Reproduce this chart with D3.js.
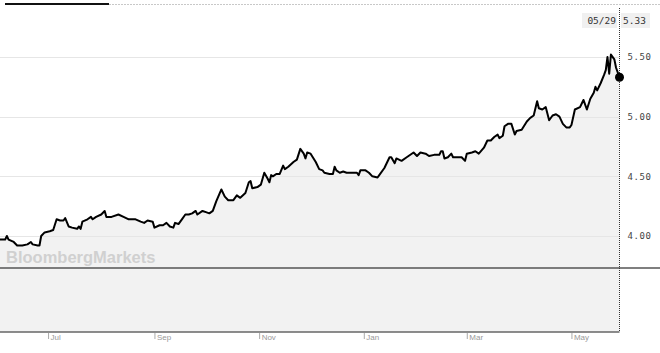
<!DOCTYPE html>
<html>
<head>
<meta charset="utf-8">
<script src="https://cdn.jsdelivr.net/npm/d3@7"></script>
<style>
  html, body { margin: 0; padding: 0; background: #fff; }
  svg { display: block; }
</style>
</head>
<body>
<svg id="chart"></svg>
<script>
// price series
var dates = [
  "2023-06-03","2023-06-06","2023-06-07","2023-06-08","2023-06-11","2023-06-13","2023-06-16","2023-06-19",
  "2023-06-21","2023-06-22","2023-06-25","2023-06-26","2023-06-27","2023-06-29","2023-07-02","2023-07-04",
  "2023-07-06","2023-07-08","2023-07-10","2023-07-11","2023-07-13","2023-07-15","2023-07-18","2023-07-19",
  "2023-07-20","2023-07-21","2023-07-24","2023-07-26","2023-07-27","2023-07-29","2023-08-01","2023-08-03",
  "2023-08-04","2023-08-07","2023-08-11","2023-08-14","2023-08-17","2023-08-21","2023-08-24","2023-08-26",
  "2023-08-28","2023-08-31","2023-09-01","2023-09-04","2023-09-06","2023-09-08","2023-09-10","2023-09-12",
  "2023-09-13","2023-09-15","2023-09-17","2023-09-19","2023-09-21","2023-09-23","2023-09-25","2023-09-26",
  "2023-09-29","2023-10-01","2023-10-03","2023-10-05","2023-10-07","2023-10-10","2023-10-12","2023-10-14",
  "2023-10-17","2023-10-19","2023-10-21","2023-10-24","2023-10-26","2023-10-27","2023-10-28","2023-10-31",
  "2023-11-02","2023-11-04","2023-11-06","2023-11-07","2023-11-08","2023-11-09","2023-11-11","2023-11-13",
  "2023-11-15","2023-11-16","2023-11-18","2023-11-21","2023-11-23","2023-11-25","2023-11-27","2023-11-28",
  "2023-11-29","2023-12-01","2023-12-04","2023-12-06","2023-12-08","2023-12-09","2023-12-12","2023-12-14",
  "2023-12-15","2023-12-16","2023-12-18","2023-12-20","2023-12-22","2023-12-25","2023-12-28","2023-12-29",
  "2023-12-30","2024-01-02","2024-01-04","2024-01-06","2024-01-09","2024-01-10","2024-01-13","2024-01-16",
  "2024-01-17","2024-01-19","2024-01-20","2024-01-23","2024-01-26","2024-01-30","2024-02-01","2024-02-03",
  "2024-02-06","2024-02-08","2024-02-11","2024-02-14","2024-02-15","2024-02-16","2024-02-17","2024-02-19",
  "2024-02-21","2024-02-22","2024-02-24","2024-02-27","2024-02-29","2024-03-01","2024-03-04","2024-03-06",
  "2024-03-08","2024-03-11","2024-03-13","2024-03-15","2024-03-17","2024-03-19","2024-03-20","2024-03-22",
  "2024-03-23","2024-03-25","2024-03-27","2024-03-29","2024-03-30","2024-04-02","2024-04-05","2024-04-07",
  "2024-04-09","2024-04-11","2024-04-12","2024-04-14","2024-04-16","2024-04-18","2024-04-20","2024-04-22",
  "2024-04-24","2024-04-26","2024-04-28","2024-04-30","2024-05-01","2024-05-03","2024-05-06","2024-05-08",
  "2024-05-10","2024-05-12","2024-05-14","2024-05-15","2024-05-16","2024-05-18","2024-05-20","2024-05-21",
  "2024-05-22","2024-05-23","2024-05-24","2024-05-26","2024-05-27","2024-05-29"
];
var values = [
  3.97,3.97,4.00,3.97,3.95,3.92,3.92,3.93,
  3.95,3.93,3.92,3.92,4.00,4.03,4.04,4.05,
  4.14,4.13,4.13,4.15,4.08,4.07,4.06,4.08,
  4.06,4.12,4.14,4.16,4.14,4.16,4.18,4.21,
  4.16,4.16,4.18,4.16,4.14,4.14,4.12,4.11,
  4.13,4.12,4.07,4.09,4.09,4.11,4.08,4.07,
  4.11,4.10,4.14,4.18,4.18,4.19,4.21,4.18,
  4.21,4.20,4.19,4.21,4.29,4.39,4.33,4.30,
  4.30,4.34,4.32,4.36,4.45,4.46,4.40,4.41,
  4.43,4.53,4.48,4.45,4.51,4.50,4.52,4.52,
  4.59,4.56,4.58,4.62,4.64,4.73,4.69,4.65,
  4.70,4.69,4.62,4.56,4.55,4.53,4.52,4.52,
  4.58,4.55,4.53,4.54,4.53,4.53,4.53,4.51,
  4.55,4.55,4.53,4.50,4.49,4.51,4.57,4.66,
  4.66,4.61,4.65,4.63,4.66,4.70,4.67,4.70,
  4.69,4.67,4.68,4.68,4.71,4.71,4.65,4.66,
  4.69,4.66,4.66,4.66,4.63,4.69,4.70,4.71,
  4.69,4.74,4.80,4.80,4.83,4.85,4.82,4.84,
  4.92,4.94,4.94,4.85,4.88,4.89,4.96,4.99,
  5.01,5.13,5.07,5.06,5.08,4.97,5.01,5.02,
  5.00,4.94,4.91,4.91,4.93,5.06,5.08,5.14,
  5.06,5.15,5.20,5.25,5.22,5.28,5.35,5.39,
  5.50,5.36,5.52,5.48,5.41,5.33
];

var yTicks = [4.00, 4.50, 5.00, 5.50];
var monthTicks = ["2023-07-01","2023-09-01","2023-11-01","2024-01-01","2024-03-01","2024-05-01"];
var lastLabel = "05/29";
var watermark = "BloombergMarkets";

var W = 660, H = 353;
var plotRight = 619.5, priceBottom = 268, volBottom = 332;

var parse = d3.timeParse("%Y-%m-%d");
var data = dates.map(function (d, i) { return { date: parse(d), value: values[i] }; });

var x = d3.scaleTime()
    .domain([parse("2023-06-03"), parse("2024-05-29")])
    .range([0, plotRight]);

var y = d3.scaleLinear()
    .domain([4.0, 5.5])
    .range([236, 57]);

var svg = d3.select("#chart")
    .attr("width", W)
    .attr("height", H);

// volume panel background
svg.append("rect")
    .attr("x", 0).attr("y", priceBottom)
    .attr("width", plotRight).attr("height", volBottom - priceBottom)
    .attr("fill", "#f2f2f2");

// area under the price line
var area = d3.area()
    .x(function (d) { return x(d.date); })
    .y0(priceBottom)
    .y1(function (d) { return y(d.value); });

svg.append("path")
    .datum(data)
    .attr("d", area)
    .attr("fill", "#f2f2f2");

// gridlines
svg.append("g")
    .selectAll("line")
    .data(yTicks)
    .enter().append("line")
    .attr("x1", 0).attr("x2", plotRight)
    .attr("y1", function (d) { return Math.round(y(d)) + 0.5; })
    .attr("y2", function (d) { return Math.round(y(d)) + 0.5; })
    .attr("stroke", "#e6e6e6")
    .attr("stroke-width", 1);

// watermark
svg.append("text")
    .attr("x", 6).attr("y", 263)
    .attr("font-family", "Liberation Sans, Arial, sans-serif")
    .attr("font-weight", "bold")
    .attr("font-size", "16.5px")
    .attr("fill", "#d0d0d0")
    .text(watermark);

// price line
var line = d3.line()
    .x(function (d) { return x(d.date); })
    .y(function (d) { return y(d.value); });

svg.append("path")
    .datum(data)
    .attr("d", line)
    .attr("fill", "none")
    .attr("stroke", "#000")
    .attr("stroke-width", 2)
    .attr("stroke-linejoin", "round");

// panel separators
svg.append("line")
    .attr("x1", 0).attr("x2", W)
    .attr("y1", priceBottom).attr("y2", priceBottom)
    .attr("stroke", "#555").attr("stroke-width", 1.5);

svg.append("line")
    .attr("x1", 0).attr("x2", plotRight)
    .attr("y1", volBottom).attr("y2", volBottom)
    .attr("stroke", "#666").attr("stroke-width", 1.5);

// cursor line at last point
svg.append("line")
    .attr("x1", plotRight).attr("x2", plotRight)
    .attr("y1", 8).attr("y2", volBottom)
    .attr("stroke", "#333").attr("stroke-width", 1)
    .attr("stroke-dasharray", "1,1");

// end dot
var last = data[data.length - 1];
svg.append("circle")
    .attr("cx", x(last.date)).attr("cy", y(last.value))
    .attr("r", 4.5)
    .attr("fill", "#000");

// top range selector bar
svg.append("line")
    .attr("x1", 109).attr("x2", W)
    .attr("y1", 4.5).attr("y2", 4.5)
    .attr("stroke", "#c8c8c8").attr("stroke-width", 1)
    .attr("stroke-dasharray", "2,1");
svg.append("line")
    .attr("x1", 5).attr("x2", 109)
    .attr("y1", 4).attr("y2", 4)
    .attr("stroke", "#111").attr("stroke-width", 2);

// y axis on the right
var yAxis = d3.axisRight(y)
    .tickValues(yTicks)
    .tickFormat(d3.format(".2f"))
    .tickSize(0)
    .tickPadding(8);

var yg = svg.append("g")
    .attr("transform", "translate(" + plotRight + ",0)")
    .call(yAxis);
yg.select(".domain").remove();
yg.selectAll("text")
    .attr("font-family", "DejaVu Sans Mono, monospace")
    .attr("font-size", "9px")
    .attr("fill", "#444")
    .attr("letter-spacing", "0.6px");

// last value labels
var mono = "DejaVu Sans Mono, monospace";
svg.append("rect")
    .attr("x", 582).attr("y", 13).attr("width", 35).attr("height", 15)
    .attr("fill", "#f0f0f0");
svg.append("rect")
    .attr("x", 621).attr("y", 13).attr("width", 29).attr("height", 15)
    .attr("fill", "#f0f0f0");
svg.append("text")
    .attr("x", 616).attr("y", 24)
    .attr("text-anchor", "end")
    .attr("font-family", mono).attr("font-size", "9.5px").attr("fill", "#333")
    .text(lastLabel);
svg.append("text")
    .attr("x", 623).attr("y", 24)
    .attr("font-family", mono).attr("font-size", "9.5px").attr("fill", "#333")
    .text(d3.format(".2f")(last.value));

// month axis
var xAxis = d3.axisBottom(x)
    .tickValues(monthTicks.map(parse))
    .tickFormat(d3.timeFormat("%b"))
    .tickSize(6)
    .tickPadding(0);

var xg = svg.append("g")
    .attr("transform", "translate(0," + (volBottom + 1) + ")")
    .call(xAxis);
xg.select(".domain").remove();
xg.selectAll(".tick line")
    .attr("stroke", "#aaa");
xg.selectAll(".tick text")
    .attr("text-anchor", "start")
    .attr("x", 2)
    .attr("y", 1)
    .attr("dy", "0.71em")
    .attr("font-family", "Liberation Sans, Arial, sans-serif")
    .attr("font-size", "8px")
    .attr("fill", "#999");
</script>
</body>
</html>
